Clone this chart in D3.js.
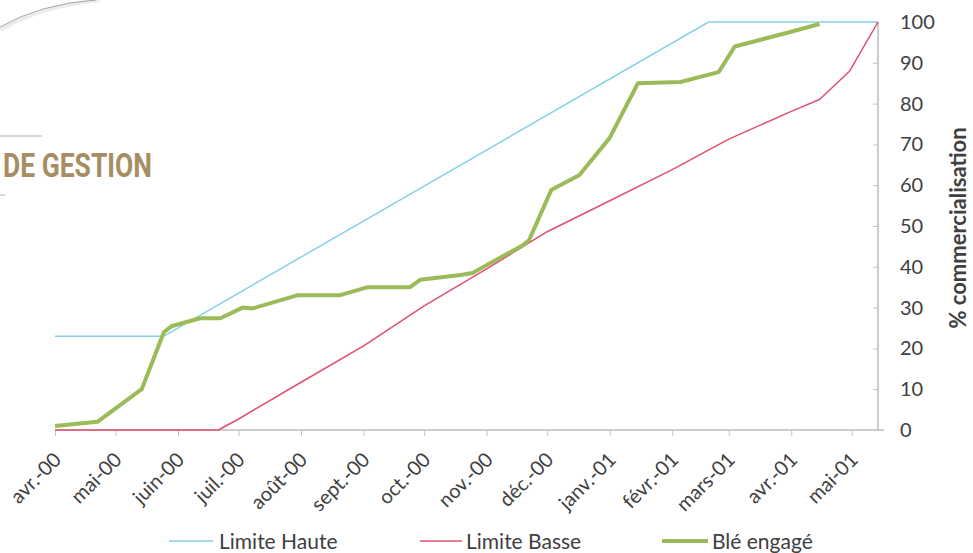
<!DOCTYPE html>
<html><head><meta charset="utf-8">
<script src="https://cdn.jsdelivr.net/npm/d3@7"></script>
<style>body{margin:0;background:#fff;}svg{display:block;}</style>
</head><body>
<svg id="c" width="973" height="553"></svg>
<script>
const monthTicks = ["2000-04-01","2000-05-01","2000-06-01","2000-07-01","2000-08-01","2000-09-01","2000-10-01","2000-11-01","2000-12-01","2001-01-01","2001-02-01","2001-03-01","2001-04-01","2001-05-01"];
const monthLabels = ["avr.-00","mai-00","juin-00","juil.-00","août-00","sept.-00","oct.-00","nov.-00","déc.-00","janv.-01","févr.-01","mars-01","avr.-01","mai-01"];
const yTicks = [0,10,20,30,40,50,60,70,80,90,100];

const hauteDates = ["2000-04-01","2000-05-25","2001-02-19","2001-05-14"];
const hauteValues = [23,23,100,100];

const basseDates = ["2000-04-01","2000-06-21","2000-07-01","2000-08-01","2000-09-01","2000-10-01","2000-11-01","2000-12-01","2001-01-01","2001-02-01","2001-03-01","2001-04-01","2001-04-15","2001-04-30","2001-05-14"];
const basseValues = [0,0,2.7,11.7,20.6,30.4,39.5,48.6,56.2,63.8,71.3,78.1,81,88,100];

const bleDates = ["2000-04-01","2000-04-22","2000-05-14","2000-05-25","2000-05-29","2000-06-12","2000-06-22","2000-07-03","2000-07-08","2000-07-30","2000-08-20","2000-09-03","2000-09-12","2000-09-24","2000-09-29","2000-10-19","2000-10-25","2000-11-19","2000-11-22","2000-12-03","2000-12-06","2000-12-17","2001-01-01","2001-01-15","2001-02-05","2001-02-24","2001-03-04","2001-03-31","2001-04-15"];
const bleValues = [1,2,10,24,25.5,27.4,27.4,30,29.8,33,33,35,35,35,36.8,38,38.5,45.3,46.5,58.8,59.6,62.5,71.6,85,85.3,87.7,94,97.5,99.5];

const legendLabels = ["Limite Haute","Limite Basse","Blé engagé"];
const colors = ["#86d3e6","#e0506e","#9bbb59"];

const svg = d3.select("#c");
const parse = d3.utcParse("%Y-%m-%d");
const x = d3.scaleUtc().domain([parse("2000-04-01"), parse("2001-05-14")]).range([55, 878]);
const y = d3.scaleLinear().domain([0,100]).range([430, 22]);
const font = "Lato, 'Open Sans', sans-serif";

// decorations
svg.append("path").attr("d","M0,30 Q40,6 100,0").attr("fill","none").attr("stroke","#ececec").attr("stroke-width",4);
svg.append("path").attr("d","M0,27 Q40,4 96,0").attr("fill","none").attr("stroke","#a8a8a8").attr("stroke-width",1);
svg.append("line").attr("x1",0).attr("x2",42).attr("y1",136).attr("y2",136).attr("stroke","#b0b0b0");
svg.append("line").attr("x1",0).attr("x2",5).attr("y1",195).attr("y2",195).attr("stroke","#b0b0b0");
svg.append("text").attr("x",3).attr("y",177).attr("font-family","Roboto, sans-serif").attr("font-weight",700)
  .attr("font-size",34).attr("fill","#a68d63").attr("textLength",149).attr("lengthAdjust","spacingAndGlyphs").text("DE GESTION");

// x axis
const xg = svg.append("g").attr("transform","translate(0,430)")
  .call(d3.axisBottom(x).tickValues(monthTicks.map(parse)).tickSize(6).tickFormat((d,i)=>monthLabels[i]));
xg.select(".domain").remove();
xg.append("line").attr("x1",55).attr("x2",884).attr("stroke","#bdbdbd").attr("stroke-width",1.5);
xg.selectAll(".tick line").attr("stroke","#c4c4c4");
xg.selectAll(".tick text").attr("font-family",font).attr("font-size",20).attr("fill","#404040")
  .attr("text-anchor","end").attr("transform","translate(2,26) rotate(-45)").attr("dx",0).attr("dy","0.35em").attr("y",0).attr("x",0);

// y axis (right)
const yg = svg.append("g").attr("transform","translate(878,0)")
  .call(d3.axisLeft(y).tickValues(yTicks).tickSize(5).tickFormat(d=>d));
yg.select(".domain").attr("stroke","#bdbdbd").attr("stroke-width",1.5).attr("d","M0,22V430");
yg.selectAll(".tick line").attr("stroke","#c4c4c4");
yg.selectAll(".tick text").attr("font-family",font).attr("font-size",20).attr("fill","#404040")
  .attr("text-anchor","start").attr("x",22);
svg.append("text").attr("transform","translate(966,228) rotate(-90)").attr("text-anchor","middle")
  .attr("font-family",font).attr("font-weight",700).attr("font-size",22).attr("fill","#404040").text("% commercialisation");

// lines
const line = d3.line().x(d=>x(d[0])).y(d=>y(d[1]));
const series = [
  [hauteDates, hauteValues, 1.5],
  [basseDates, basseValues, 1.5],
  [bleDates, bleValues, 4]
];
series.forEach((s,i)=>{
  const pts = s[0].map((d,j)=>[parse(d), s[1][j]]);
  svg.append("path").datum(pts).attr("d",line).attr("fill","none")
    .attr("stroke",colors[i]).attr("stroke-width",s[2]).attr("stroke-linejoin","round");
});

// legend
const legX = [[169,213,219],[420,462,466],[662,708,712]];
legendLabels.forEach((l,i)=>{
  svg.append("line").attr("x1",legX[i][0]).attr("x2",legX[i][1]).attr("y1",541).attr("y2",541)
    .attr("stroke",colors[i]).attr("stroke-width",i===2?4:1.5);
  svg.append("text").attr("x",legX[i][2]).attr("y",549).attr("font-family",font).attr("font-size",21)
    .attr("fill","#404040").text(l);
});
</script>
</body></html>
